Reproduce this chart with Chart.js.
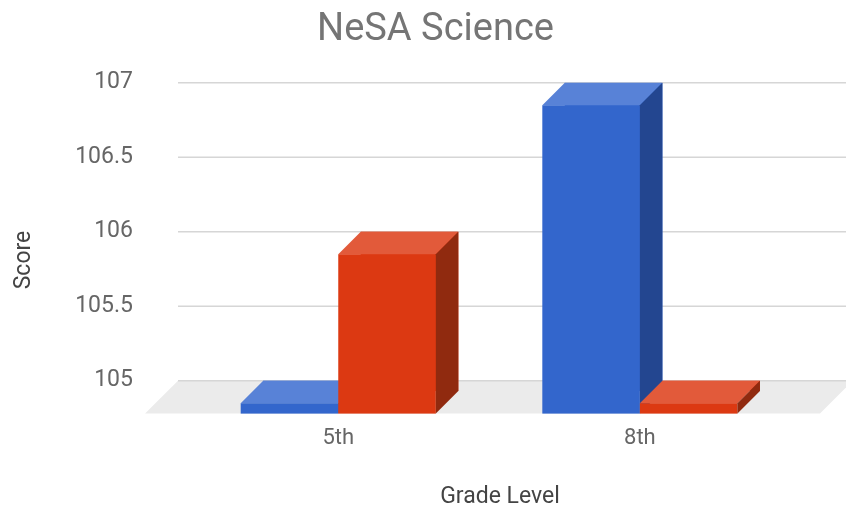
<!DOCTYPE html>
<html>
<head>
<meta charset="utf-8">
<title>NeSA Science</title>
<script src="https://cdn.jsdelivr.net/npm/chart.js@4.4.1/dist/chart.umd.min.js"></script>
<style>
  html, body { margin: 0; padding: 0; background: #fff; }
</style>
</head>
<body>
<canvas id="grafica" width="846" height="510"></canvas>
<script>
// data
const grades = ['5th', '8th'];
const blueScores = [105, 107];
const redScores = [106, 105];
const scoreTicks = [105, 105.5, 106, 106.5, 107];
const scoreMin = 104.93;
const scoreMax = 107;

// look of the 3d boxes
const depth = 22.5;
const blueFaces = { front: '#3366cc', top: '#5882d7', side: '#234690' };
const redFaces = { front: '#dc3912', top: '#e25a3a', side: '#902a0f' };
const fontName = 'Roboto, "Open Sans", sans-serif';

function chart3d() {
	this.ini = function () {
		this.draw();
	}

	// floor, back wall grid lines and the box faces
	this.boxes = {
		id: 'boxes',
		beforeDatasetsDraw: function (chart) {
			const ctx = chart.ctx;
			const y = chart.scales.y;
			const area = chart.chartArea;
			const top = y.getPixelForValue(scoreTicks[0]);
			const bottom = area.bottom + depth;
			const h = bottom - top;
			ctx.save();
			ctx.fillStyle = '#ebebeb';
			ctx.beginPath();
			ctx.moveTo(178, top);
			ctx.lineTo(820 + h, top);
			ctx.lineTo(820, bottom);
			ctx.lineTo(178 - h, bottom);
			ctx.closePath();
			ctx.fill();
			ctx.strokeStyle = '#d6d6d6';
			ctx.lineWidth = 1.5;
			y.ticks.forEach(function (t) {
				const py = y.getPixelForValue(t.value);
				ctx.beginPath();
				ctx.moveTo(178, py);
				ctx.lineTo(846, py);
				ctx.stroke();
			});
			ctx.restore();
		},
		afterDatasetsDraw: function (chart) {
			const ctx = chart.ctx;
			const area = chart.chartArea;
			const faces = [blueFaces, redFaces];
			ctx.save();
			chart.data.datasets.forEach(function (ds, i) {
				chart.getDatasetMeta(i).data.forEach(function (bar) {
					const p = bar.getProps(['x', 'y', 'base', 'width'], true);
					const base = Math.min(p.base, area.bottom);
					const l = p.x - p.width / 2, r = p.x + p.width / 2;
					const c = faces[i];
					// front
					ctx.fillStyle = c.front;
					ctx.fillRect(l - depth, p.y + depth, p.width, base - p.y);
					// top
					ctx.fillStyle = c.top;
					ctx.beginPath();
					ctx.moveTo(l - depth, p.y + depth);
					ctx.lineTo(l, p.y);
					ctx.lineTo(r, p.y);
					ctx.lineTo(r - depth, p.y + depth);
					ctx.closePath();
					ctx.fill();
					// side
					ctx.fillStyle = c.side;
					ctx.beginPath();
					ctx.moveTo(r - depth, p.y + depth);
					ctx.lineTo(r, p.y);
					ctx.lineTo(r, base);
					ctx.lineTo(r - depth, base + depth);
					ctx.closePath();
					ctx.fill();
				});
			});
			// axis titles
			ctx.fillStyle = '#444';
			ctx.font = '23px ' + fontName;
			ctx.textAlign = 'center';
			ctx.textBaseline = 'middle';
			ctx.fillText('Grade Level', 500, 497);
			ctx.translate(24, 260);
			ctx.rotate(-Math.PI / 2);
			ctx.fillText('Score', 0, 0);
			ctx.restore();
		}
	};

	this.draw = function () {
		const ctx = document.getElementById('grafica').getContext('2d');
		const myChart = new Chart(ctx, {
			type: 'bar',
			data: {
				labels: grades,
				datasets: [
					{
						label: 'Series 1',
						data: blueScores,
						backgroundColor: blueFaces.front
					},
					{
						label: 'Series 2',
						data: redScores,
						backgroundColor: redFaces.front
					}
				]
			},
			options: {
				responsive: false,
				animation: false,
				devicePixelRatio: 1,
				categoryPercentage: 0.647,
				barPercentage: 1,
				layout: { padding: { left: 57.8, right: 32.8, top: 0, bottom: 0 } },
				plugins: {
					legend: { display: false },
					tooltip: { enabled: false },
					title: {
						display: true,
						text: 'NeSA Science',
						color: '#757575',
						font: { family: fontName, size: 38, weight: 'normal' },
						padding: { top: 8, bottom: 29.1 }
					}
				},
				scales: {
					x: {
						grid: { display: false, drawTicks: false },
						border: { display: false },
						ticks: {
							color: '#666',
							font: { family: fontName, size: 22 },
							padding: 34,
							labelOffset: -depth
						},
						afterFit: function (s) { s.height = 118.9; }
					},
					y: {
						min: scoreMin,
						max: scoreMax,
						grid: { display: false, drawTicks: false },
						border: { display: false },
						afterBuildTicks: function (s) {
							s.ticks = scoreTicks.map(function (v) { return { value: v }; });
						},
						ticks: {
							color: '#666',
							font: { family: fontName, size: 23 },
							padding: 77,
							callback: function (v) { return String(v); }
						},
						afterFit: function (s) {
							s.width = 152.15;
							// the big label padding must not push the plot down
							s.paddingTop = 0;
							s.paddingBottom = 0;
						}
					}
				}
			},
			plugins: [this.boxes]
		});
	}
}

var oChart = new chart3d();
oChart.ini();
</script>
</body>
</html>
